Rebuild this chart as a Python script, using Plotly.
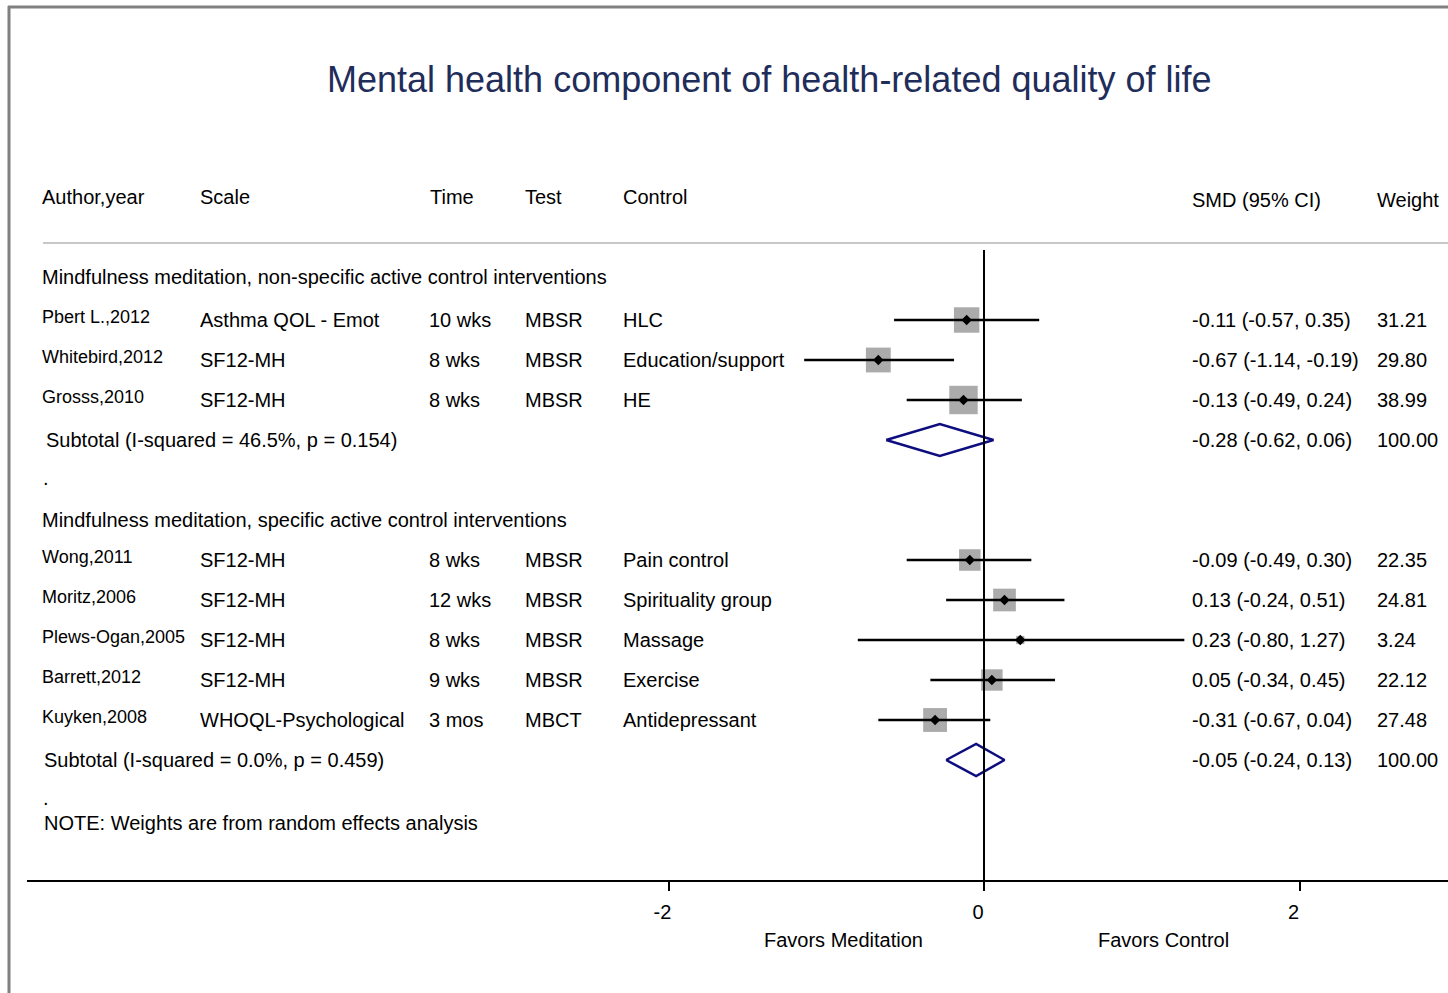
import math
import plotly.graph_objects as go

# ---- data ----
studies = ["Pbert L.,2012", "Whitebird,2012", "Grosss,2010",
           "Wong,2011", "Moritz,2006", "Plews-Ogan,2005", "Barrett,2012", "Kuyken,2008"]
scales = ["Asthma QOL - Emot", "SF12-MH", "SF12-MH",
          "SF12-MH", "SF12-MH", "SF12-MH", "SF12-MH", "WHOQL-Psychological"]
times = ["10 wks", "8 wks", "8 wks", "8 wks", "12 wks", "8 wks", "9 wks", "3 mos"]
tests = ["MBSR", "MBSR", "MBSR", "MBSR", "MBSR", "MBSR", "MBSR", "MBCT"]
controls = ["HLC", "Education/support", "HE",
            "Pain control", "Spirituality group", "Massage", "Exercise", "Antidepressant"]
smd = [-0.11, -0.67, -0.13, -0.09, 0.13, 0.23, 0.05, -0.31]
ci_lo = [-0.57, -1.14, -0.49, -0.49, -0.24, -0.80, -0.34, -0.67]
ci_hi = [0.35, -0.19, 0.24, 0.30, 0.51, 1.27, 0.45, 0.04]
weights = [31.21, 29.80, 38.99, 22.35, 24.81, 3.24, 22.12, 27.48]
group_of = [0, 0, 0, 1, 1, 1, 1, 1]

group_labels = ["Mindfulness meditation, non-specific active control interventions",
                "Mindfulness meditation, specific active control interventions"]
sub_labels = ["Subtotal (I-squared = 46.5%, p = 0.154)",
              "Subtotal (I-squared = 0.0%, p = 0.459)"]
sub_smd = [-0.28, -0.05]
sub_lo = [-0.62, -0.24]
sub_hi = [0.06, 0.13]
sub_weight = [100.00, 100.00]

headers = ["Author,year", "Scale", "Time", "Test", "Control", "SMD (95% CI)", "Weight"]
x_ticks = [-2, 0, 2]

TITLE = "Mental health component of health-related quality of life"
NOTE = "NOTE: Weights are from random effects analysis"

# ---- layout helpers ----
W, H = 1448, 993
FONT = "Liberation Sans, Arial, Helvetica, sans-serif"
PX_PER_UNIT = 157.75          # horizontal scale (pixels per SMD unit)
ZERO_PX = 984                 # pixel position of SMD = 0
AXIS_LEFT_PX = 27
ROW_PX, ROW0_PX = 40, 280     # row spacing and position of row 0
AXIS_PX = 880                 # pixel row of the x axis line
TEXT_PAD = 2                  # annotation inner padding to compensate

x_min = (AXIS_LEFT_PX - ZERO_PX) / PX_PER_UNIT
x_max = (W - ZERO_PX) / PX_PER_UNIT
y_top = (0 - ROW0_PX) / ROW_PX
y_axis = (AXIS_PX - ROW0_PX) / ROW_PX


def px_to_x(px):
    return (px - ZERO_PX) / PX_PER_UNIT


def px_to_row(py):
    return (py - ROW0_PX) / ROW_PX


# column x positions (pixels)
col_px = {"author": 42, "scale": 200, "time": 429, "test": 525,
          "control": 623, "smd": 1192, "weight": 1377}
header_px = [42, 200, 430, 525, 623, 1192, 1377]
group_label_dy = [-0.08, 0.0]
sub_label_px = [46, 44]

# assign rows: group label, studies, subtotal, spacer
study_row = [0] * len(studies)
group_row, sub_row, dot_row = [], [], []
r = 0
for g in range(len(group_labels)):
    group_row.append(r)
    r += 1
    for i, gi in enumerate(group_of):
        if gi == g:
            study_row[i] = r
            r += 1
    sub_row.append(r)
    r += 1
    dot_row.append(r)
    r += 1

fig = go.Figure()

# weight boxes
fig.add_trace(go.Scatter(
    x=smd, y=study_row, mode="markers",
    marker=dict(symbol="square", size=[4.55 * math.sqrt(w) for w in weights],
                color="#ababab", opacity=1, line=dict(width=0)),
    hoverinfo="skip", showlegend=False))

# confidence intervals
cx, cy = [], []
for lo, hi, rr in zip(ci_lo, ci_hi, study_row):
    cx += [lo, hi, None]
    cy += [rr, rr, None]
fig.add_trace(go.Scatter(x=cx, y=cy, mode="lines",
                         line=dict(color="black", width=2.5),
                         hoverinfo="skip", showlegend=False))

# point estimates
fig.add_trace(go.Scatter(
    x=smd, y=study_row, mode="markers",
    marker=dict(symbol="diamond", size=8, color="black", opacity=1, line=dict(width=0)),
    hoverinfo="skip", showlegend=False))

# pooled diamonds
dx, dy = [], []
for e, lo, hi, rr in zip(sub_smd, sub_lo, sub_hi, sub_row):
    dx += [lo, e, hi, e, lo, None]
    dy += [rr, rr - 0.4, rr, rr + 0.4, rr, None]
fig.add_trace(go.Scatter(x=dx, y=dy, mode="lines",
                         line=dict(color="#0d0d80", width=2.5),
                         hoverinfo="skip", showlegend=False))

annotations = []


def add_text(px, row, text, size=20, color="black"):
    annotations.append(dict(
        x=px_to_x(px), y=row, xref="x", yref="y", text=text, showarrow=False,
        xanchor="left", yanchor="middle", xshift=-TEXT_PAD,
        font=dict(family=FONT, size=size, color=color)))


# column headers
for hp, ht in zip(header_px, headers):
    add_text(hp, px_to_row(197 if hp < 1000 else 200), ht)

# group labels and subtotals
for g in range(len(group_labels)):
    add_text(42, group_row[g] + group_label_dy[g], group_labels[g])
    add_text(sub_label_px[g], sub_row[g], sub_labels[g])
    add_text(1192, sub_row[g], f"{sub_smd[g]:.2f} ({sub_lo[g]:.2f}, {sub_hi[g]:.2f})")
    add_text(1377, sub_row[g], f"{sub_weight[g]:.2f}")
    add_text(43, dot_row[g] - 0.05, ".")

# study rows
for i in range(len(studies)):
    rr = study_row[i]
    add_text(col_px["author"], rr - 0.08, studies[i], size=18)
    add_text(col_px["scale"], rr, scales[i])
    add_text(col_px["time"], rr, times[i])
    add_text(col_px["test"], rr, tests[i])
    add_text(col_px["control"], rr, controls[i])
    add_text(col_px["smd"], rr, f"{smd[i]:.2f} ({ci_lo[i]:.2f}, {ci_hi[i]:.2f})")
    add_text(col_px["weight"], rr, f"{weights[i]:.2f}")

add_text(44, px_to_row(823), NOTE)

# title
annotations.append(dict(
    x=770 / W, y=1 - 79 / H, xref="paper", yref="paper", text=TITLE,
    showarrow=False, xanchor="center", yanchor="middle",
    font=dict(family=FONT, size=36, color="#1f2d5a")))

# favours labels under the axis
for xv, txt in [(px_to_x(843), "Favors Meditation"), (px_to_x(1163), "Favors Control")]:
    annotations.append(dict(
        x=xv, y=1 - 940 / H, xref="x", yref="paper", text=txt,
        showarrow=False, xanchor="center", yanchor="middle",
        font=dict(family=FONT, size=20, color="black")))

shapes = [
    # header rule
    dict(type="line", xref="paper", yref="y", x0=43 / W, x1=1.0,
         y0=px_to_row(243), y1=px_to_row(243),
         line=dict(color="#c8c8c8", width=2)),
    # no-effect line
    dict(type="line", xref="x", yref="y", x0=0, x1=0,
         y0=px_to_row(250), y1=y_axis, line=dict(color="black", width=2)),
    # outer frame (left and top)
    dict(type="line", xref="paper", yref="paper", x0=9 / W, x1=9 / W,
         y0=0, y1=1 - 6 / H, line=dict(color="#808080", width=3)),
    dict(type="line", xref="paper", yref="paper", x0=8 / W, x1=1.0,
         y0=1 - 7 / H, y1=1 - 7 / H, line=dict(color="#808080", width=3)),
]

fig.update_layout(
    width=W, height=H,
    margin=dict(l=0, r=0, t=0, b=0),
    paper_bgcolor="white", plot_bgcolor="white",
    showlegend=False,
    annotations=annotations,
    shapes=shapes,
    xaxis=dict(domain=[AXIS_LEFT_PX / W, 1], range=[x_min, x_max],
               showgrid=False, zeroline=False, showline=True,
               linecolor="black", linewidth=2,
               ticks="outside", ticklen=9, tickwidth=2, tickcolor="black",
               tickvals=x_ticks, ticktext=[str(t) for t in x_ticks],
               tickfont=dict(family=FONT, size=20, color="black"),
               ticklabelshift=-6, ticklabelstandoff=4, fixedrange=True),
    yaxis=dict(domain=[(H - AXIS_PX) / H, 1], range=[y_axis, y_top],
               visible=False, fixedrange=True),
)

fig.write_html("out.html")
